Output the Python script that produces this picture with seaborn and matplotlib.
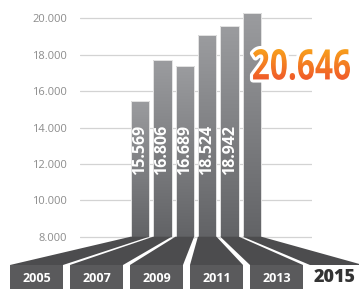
import numpy as np
import pandas as pd
import matplotlib
matplotlib.use("Agg")
import matplotlib.pyplot as plt
import seaborn as sns
import matplotlib.transforms as mtransforms
from matplotlib.colors import LinearSegmentedColormap
from matplotlib.patches import Polygon, Rectangle, PathPatch
from matplotlib.textpath import TextPath
from matplotlib.font_manager import FontProperties

# values
years = ["2005", "2007", "2009", "2011", "2013", "2015"]
values = [15569, 16806, 16689, 18524, 18942, 20646]        # printed numbers
bar_heights = [15480, 17700, 17370, 19080, 19590, 20290]   # where the bars actually end
yticks = [8000, 10000, 12000, 14000, 16000, 18000, 20000]


def fmt(v):
    return f"{v:,}".replace(",", ".")


sns.set_style("white")
plt.rcParams["font.family"] = ["Open Sans", "DejaVu Sans"]
narrow = ["Liberation Sans Narrow", "Open Sans", "DejaVu Sans"]

W, H = 359, 289
k = 0.0182          # pixels per unit on the y axis
base = 236.7        # pixel row of the 8.000 line
fig = plt.figure(figsize=(W / 100, H / 100), dpi=100)
ax = fig.add_axes([80 / W, (H - 239) / H, 232 / W, 239 / H])
ylim = (8000 - 2.3 / k, 8000 + base / k)

#Bars
df = pd.DataFrame({"year": years, "height": bar_heights})
sns.barplot(data=df, x="year", y="height", ax=ax, width=0.83, color="#808184",
            edgecolor="#e4e4e4", linewidth=0.7, zorder=3)

#Vertical gradient inside each bar
bar_cmap = LinearSegmentedColormap.from_list("bar", ["#9b9c9f", "#626366"])
grad = np.linspace(0, 1, 256).reshape(-1, 1)
for p in ax.patches:
    x0 = p.get_x()
    im = ax.imshow(grad, cmap=bar_cmap, origin="upper", aspect="auto", zorder=2,
                   extent=(x0, x0 + p.get_width(), 8000, p.get_height()))
    im.set_clip_path(p)
    p.set_facecolor("none")

ax.set_xlim(-2.68, 7.68)
ax.set_ylim(*ylim)
ax.set_yticks(yticks)
ax.set_yticklabels([fmt(v) for v in yticks])
ax.tick_params(axis="y", length=0, pad=9.4, labelsize=8, labelcolor="#8c8c8c")
ax.tick_params(axis="x", length=0, labelbottom=False)
ax.grid(axis="y", color="#d3d3d3", lw=0.9)
ax.set_axisbelow(True)
ax.set_xlabel("")
ax.set_ylabel("")
sns.despine(ax=ax, left=True, bottom=True)

#Rotated numbers inside the bars
for i, v in enumerate(values[:-1]):
    ax.text(i, 11400, fmt(v), rotation=90, ha="center", va="bottom", color="white",
            fontsize=11.5, family=narrow, weight="bold", zorder=4)

#Overlay in pixel units for the fan and the big number
ov = fig.add_axes([0, 0, 1, 1], zorder=5)
ov.patch.set_alpha(0)
ov.axis("off")
ov.set_xlim(0, W)
ov.set_ylim(H, 0)
to_px = ax.transData + ov.transData.inverted()

box_top = 265
for i, p in enumerate(ax.patches):
    bl, ty = to_px.transform((p.get_x(), 8000))
    br, _ = to_px.transform((p.get_x() + p.get_width(), 8000))
    rl = 10 + 60 * i
    rr = rl + 53
    ov.add_patch(Polygon([(bl, ty), (br, ty), (rr, box_top), (rl, box_top)],
                         closed=True, fc="#4c4c4e", ec="none"))
    if i < len(years) - 1:
        ov.add_patch(Rectangle((rl, box_top), 53, H - box_top, fc="#5a5a5c", ec="none"))
        ov.text(rl + 26.5, 279, years[i], ha="center", va="center", color="white",
                fontsize=9, weight="bold")
    else:
        ov.text(rl + 25, 278, years[i], ha="center", va="center", color="#333333",
                fontsize=13, weight="heavy")

#Big orange total with white outline
fp = FontProperties(family=narrow, weight="bold")
tp = TextPath((0, 0), fmt(values[-1]), size=100, prop=fp)
ext = tp.get_extents()
tr = (mtransforms.Affine2D().translate(-ext.x0, -ext.y0)
      .scale(97 / ext.width, -31 / ext.height).translate(253, 80) + ov.transData)
ov.add_patch(PathPatch(tp, transform=tr, fc="white", ec="white", lw=4.5,
                       joinstyle="round", zorder=1))
clip = PathPatch(tp, transform=tr, fc="none", ec="none")
ov.add_patch(clip)
orange = LinearSegmentedColormap.from_list("orange", ["#f8a01c", "#f0592a"])
im = ov.imshow(grad, cmap=orange, origin="upper", aspect="auto", zorder=2,
               extent=(253, 350, 80, 49))
im.set_clip_path(clip)
ov.set_xlim(0, W)
ov.set_ylim(H, 0)

fig.savefig("out.png", dpi=100)
